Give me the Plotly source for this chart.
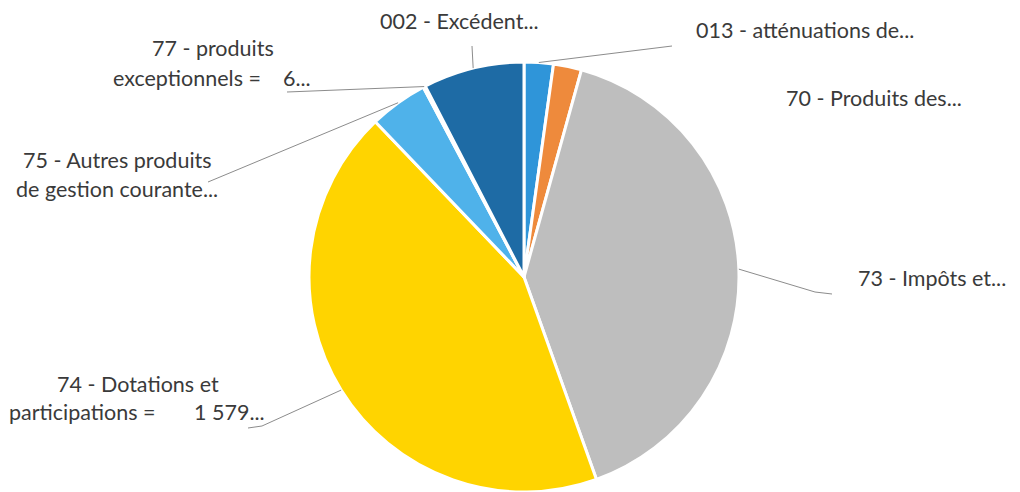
import math
import plotly.graph_objects as go

# ---- data ----
categories = [
    "013 - atténuations de charges",
    "70 - Produits des services",
    "73 - Impôts et taxes",
    "74 - Dotations et participations",
    "75 - Autres produits de gestion courante",
    "77 - produits exceptionnels",
    "002 - Excédent reporté",
]
values = [80000, 77000, 1466000, 1579000, 160000, 6000, 277000]
label_lines = [
    ["013 - atténuations de..."],
    ["70 - Produits des..."],
    ["73 - Impôts et..."],
    ["74 - Dotations et", "participations =\u00a0\u00a0\u00a0\u00a0\u00a0\u00a0 1 579..."],
    ["75 - Autres produits", "de gestion courante..."],
    ["77 - produits", "exceptionnels =\u00a0\u00a0\u00a0 6..."],
    ["002 - Excédent..."],
]

# ---- styling / layout ----
colors = ["#2F95D9", "#EE8A3C", "#BEBEBE", "#FFD400", "#4FB2EA", "#6DAA45", "#1E6BA5"]
W, H = 1020, 492
CX, CY, R = 524, 277, 215

# label centre positions (px) for each line, and leader end point on the label side
label_pos = [
    [(805, 30)],
    [(874, 98)],
    [(932, 278)],
    [(138, 384), (137, 412)],
    [(117, 160), (117, 189)],
    [(213, 48), (212, 78)],
    [(459, 21)],
]
leader_end = [(672, 46), None, (832, 294), (248, 428), (208, 182), (287, 92), (472, 46)]
leader_elbow = [None, None, (815, 292), (262, 426), None, None, None]

def px(x, y):
    return x / W, 1 - y / H

fig = go.Figure()
fig.add_trace(go.Pie(
    labels=categories,
    values=values,
    sort=False,
    direction="clockwise",
    rotation=0,
    textinfo="none",
    hoverinfo="label+value+percent",
    marker=dict(colors=colors, line=dict(color="white", width=3)),
    domain=dict(x=[(CX - R) / W, (CX + R) / W], y=[max(0, 1 - (CY + R) / H), 1 - (CY - R) / H]),
))

shapes = []
annotations = []
total = sum(values)
cum = 0
for i, v in enumerate(values):
    mid = (cum + v / 2) / total * 2 * math.pi
    cum += v
    tx = CX + R * math.sin(mid)
    ty = CY - R * math.cos(mid)
    if leader_end[i] is not None:
        pts = [(tx, ty)]
        if leader_elbow[i] is not None:
            pts.append(leader_elbow[i])
        pts.append(leader_end[i])
        path = "M " + " L ".join(f"{px(a, b)[0]},{px(a, b)[1]}" for a, b in pts)
        shapes.append(dict(type="path", xref="paper", yref="paper", path=path,
                           line=dict(color="#8C8C8C", width=1)))
    for line, (lx, ly) in zip(label_lines[i], label_pos[i]):
        x, y = px(lx, ly)
        annotations.append(dict(text=line, x=x, y=y, xref="paper", yref="paper",
                                showarrow=False, xanchor="center", yanchor="middle",
                                font=dict(family="Lato", size=21.5, color="#3A3A3A")))

fig.update_layout(
    width=W, height=H,
    margin=dict(l=0, r=0, t=0, b=0),
    paper_bgcolor="white",
    plot_bgcolor="white",
    showlegend=False,
    shapes=shapes,
    annotations=annotations,
)

fig.write_html("out.html", config={"displayModeBar": False},
               post_script="document.body.style.margin='0';document.body.style.overflow='hidden';")
